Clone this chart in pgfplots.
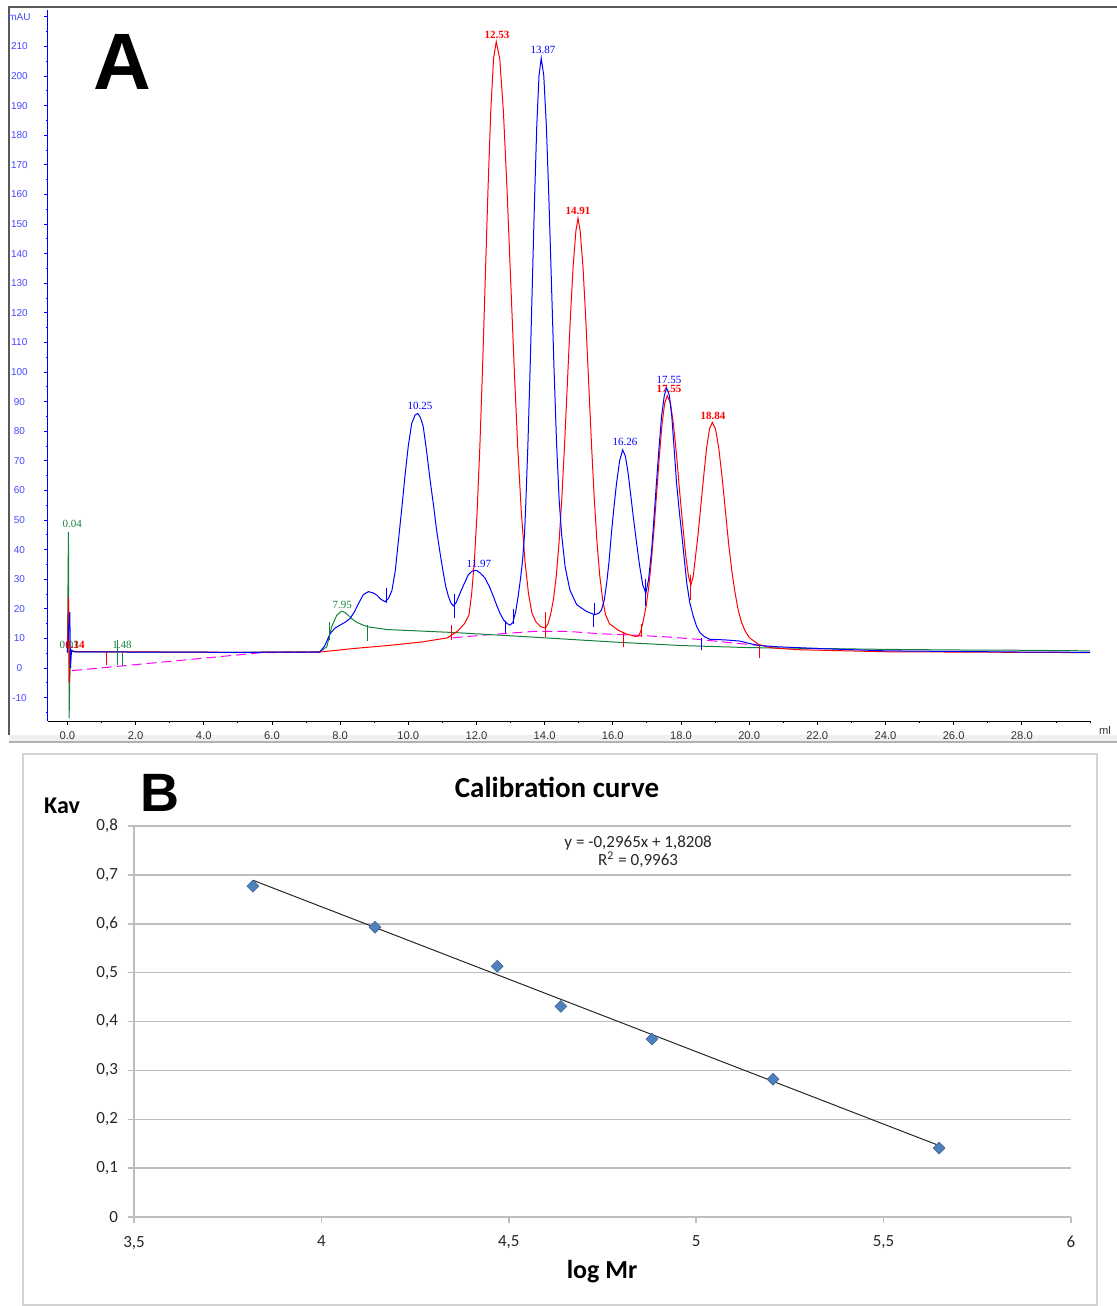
\documentclass[border=0pt]{standalone}
\usepackage{fontspec}
\setmainfont{Liberation Sans}
\newfontfamily\timesf{Liberation Serif}
\newfontfamily\calib{Carlito}
\usepackage{pgfplots}
\pgfplotsset{compat=1.18}

\definecolor{chblue}{RGB}{0,0,255}
\definecolor{chred}{RGB}{255,0,0}
\definecolor{chgreen}{RGB}{20,130,60}
\definecolor{chmag}{RGB}{255,0,255}
\definecolor{ticklab}{RGB}{70,70,255}
\definecolor{xlblue}{RGB}{79,129,189}
\definecolor{gridg}{RGB}{190,190,190}

\begin{document}
\begin{tikzpicture}[x=0.5pt,y=-0.5pt]
\useasboundingbox (0,0) rectangle (1117,1306);
% frames of the two panels
\draw[gray!70!black, line width=0.6pt] (9,735) -- (9,7) -- (1117,7);
\fill[gray!12] (9,735) rectangle (1117,741);
\draw[gray!60, line width=0.75pt] (9,742) -- (1117,742);
\draw[gray!35, line width=0.75pt] (23,1305) rectangle (1097,754);

% ---------------- panel A: chromatogram
\begin{axis}[
  at={(24pt,-360.5pt)}, anchor=south west,
  scale only axis, width=521pt, height=355.5pt,
  xmin=-0.57, xmax=30, ymin=-17.9, ymax=222.3,
  axis x line*=bottom, axis y line*=left,
  x axis line style={black, line width=0.5pt, -},
  y axis line style={chblue, line width=0.5pt, -},
  xtick={0,2,...,28}, minor xtick={1,3,...,29,30},
  ytick={-10,0,...,220}, minor ytick={-15,-5,...,215},
  yticklabels={-10,0,10,20,30,40,50,60,70,80,90,100,110,120,130,140,150,160,170,180,190,200,210,mAU},
  xticklabel={\pgfmathprintnumber[fixed,fixed zerofill,precision=1]{\tick}},
  tick align=outside, major tick length=2pt, minor tick length=1.2pt,
  xtick style={black, line width=0.4pt},
  ytick style={chblue, line width=0.4pt},
  /pgf/number format/assume math mode=true,
  xticklabel style={font=\fontsize{5.6}{6}\selectfont, text=black!80},
  yticklabel style={font=\fontsize{5}{6}\selectfont, text=ticklab, anchor=center, xshift=-12.3pt},
  xlabel={ml},
  xlabel style={at={(axis description cs:1,0)}, anchor=west, xshift=1pt, yshift=-4.5pt,
    font=\fontsize{5.6}{6}\selectfont, text=black!80},
  unbounded coords=jump,
]
% baseline (dashed)
\addplot[chmag, line width=0.5pt, dash pattern=on 5pt off 2.5pt] coordinates {
(0.13,-0.9) (5.7,5.2) (7.4,5.4) (7.4,nan)
(11.3,10.2) (12.3,11.2) (13.7,12.4) (14.65,12.4) (15.6,11.6) (16.6,11.1) (17.6,10.5) (18.5,9.7) (19.5,8.5) (20.3,7.6)};
% green trace
\addplot[chgreen, line width=0.5pt] coordinates {
(0.00,5.3) (0.03,46) (0.05,-17) (0.08,5.8) (0.15,5.5) (2,5.4) (5,5.3) (7.41,5.5) (7.61,7.2) (7.75,13.9)
(7.90,17.8) (8.04,19.2) (8.14,18.8) (8.24,17.8) (8.36,16.5) (8.48,15.5) (8.65,14.6) (8.83,13.9) (9.37,13)
(10.35,12.5) (11.32,12) (12.69,11.1) (14,10.2) (16,8.8) (18,7.6) (20,6.9) (22,6.6) (24,6.3) (26,6.1) (28,6.0) (30,5.8)};
% red trace
\addplot[chred, line width=0.5pt] coordinates {
(0.00,5.3) (0.03,24) (0.06,-5) (0.09,6) (0.15,5.6) (1.0,5.5) (3.0,5.4) (5.0,5.3) (7.4,5.4) (8.0,6.1) (8.4,6.6)
(9.4,7.6) (10.4,8.8) (11.15,10.2) (11.45,12.5) (11.65,15) (11.78,17.9) (11.86,25.2) (11.94,36.5) (12.02,52.9)
(12.10,74.9) (12.18,101.9) (12.26,132.1) (12.34,162.2) (12.42,188.1) (12.50,205.7) (12.58,211.6) (12.685,205.7)
(12.79,188.1) (12.895,162.2) (13.00,132.1) (13.105,101.9) (13.21,74.9) (13.315,52.9) (13.42,36.5) (13.525,25.2)
(13.63,18.5) (13.75,15.5) (13.88,14) (14.02,13.5) (14.1,15) (14.175,18.1) (14.2575,23.1) (14.34,30.9) (14.4225,42.3)
(14.505,57.5) (14.5875,76.1) (14.67,96.9) (14.7525,117.7) (14.835,135.6) (14.9175,147.7) (14.98,152) (15.0425,147.7)
(15.125,135.6) (15.2075,117.7) (15.29,96.9) (15.3725,76.1) (15.455,57.5) (15.5375,42.3) (15.62,30.9) (15.7025,23.1)
(15.785,18.1) (15.9,15) (16.15,12.8) (16.4,11.5) (16.65,10.7) (16.76,10.8) (16.825,12.6) (16.9025,16.5) (16.98,21.1)
(17.0575,27.7) (17.135,36.6) (17.2125,47.5) (17.29,59.7) (17.3675,71.9) (17.445,82.4) (17.5225,89.5) (17.60,92)
(17.69,89.5) (17.78,82.4) (17.87,71.9) (17.96,59.7) (18.05,48.5) (18.14,38) (18.22,31) (18.29,28) (18.36,31)
(18.41,36) (18.495,44.5) (18.58,54.5) (18.665,64.6) (18.75,74.2) (18.835,80.7) (18.92,83) (19.015,80.7) (19.11,74.2)
(19.205,64.6) (19.30,53.5) (19.395,42.3) (19.49,33) (19.585,25.5) (19.68,19.5) (19.775,15.5) (19.87,12.8) (20.0,10.3)
(20.27,8) (20.66,6.8) (21.4,6.2) (22.5,5.9) (24,5.5) (26,5.4) (28,5.3) (30,5.2)};
% blue trace
\addplot[chblue, line width=0.5pt] coordinates {
(0.00,5.2) (0.04,14) (0.07,19) (0.09,0) (0.12,6) (0.2,5.5) (2,5.4) (5,5.3) (7.4,5.4) (7.55,7.5) (7.71,11.7)
(7.85,13.5) (8.0,14.5) (8.15,15.5) (8.29,16.7) (8.42,19) (8.54,21.8) (8.68,24.8) (8.83,25.8) (8.96,25.4) (9.08,24.6)
(9.2,23.2) (9.32,22.4) (9.42,23.5) (9.52,26.2) (9.62,33) (9.71,43) (9.81,54) (9.91,65.7) (10.0,75) (10.10,82.6)
(10.2,85.5) (10.28,86) (10.36,84.5) (10.44,81.5) (10.54,73) (10.64,63.5) (10.74,55) (10.83,46.6) (10.93,39)
(11.03,32) (11.1,27.5) (11.18,24.1) (11.25,22) (11.32,21) (11.4,22) (11.52,25.3) (11.64,28.5) (11.76,31.5)
(11.88,32.8) (12.0,33) (12.12,32) (12.25,30.4) (12.38,27.5) (12.50,24.1) (12.6,21) (12.69,18.5) (12.8,16.2)
(12.9,15) (12.99,14.5) (13.07,15.5) (13.15,19) (13.22,24) (13.29,30) (13.35,36) (13.41,45) (13.445,54.7)
(13.51,75.7) (13.575,101.4) (13.64,130.1) (13.705,158.7) (13.77,183.3) (13.835,200.1) (13.90,206) (13.975,200.1)
(14.05,183.3) (14.125,158.7) (14.20,130.1) (14.275,101.4) (14.35,76) (14.425,57) (14.5,45) (14.6,34.3) (14.74,26.4)
(14.94,21.4) (15.23,19.1) (15.47,18) (15.6,18.6) (15.67,19.7) (15.75,23) (15.82,28.7) (15.89,36) (15.96,45.6)
(16.04,55) (16.11,62.5) (16.2,70) (16.29,73.7) (16.37,71.5) (16.45,65.8) (16.52,59) (16.60,51.2) (16.7,42)
(16.79,34.3) (16.88,28) (16.97,25.3) (17.05,30) (17.14,39.9) (17.21,51) (17.28,62.5) (17.36,75) (17.43,85)
(17.51,92) (17.58,94.6) (17.66,92) (17.73,85) (17.8,74) (17.87,62.5) (17.95,53) (18.02,45.6) (18.1,36.5)
(18.17,28.7) (18.26,22) (18.36,17.5) (18.46,14) (18.56,11.9) (18.7,10.5) (18.85,9.7) (19.3,9.5) (19.73,9.1)
(20.0,8.3) (20.3,7.6) (20.8,7.2) (22,6.6) (24,5.8) (26,5.6) (28,5.4) (30,5.3)};
% peak delimiter marks
\addplot[chgreen, line width=0.5pt] coordinates {
(1.46,1) (1.46,9.5) (1.46,nan) (1.62,0.8) (1.62,5.2) (1.62,nan)
(7.7,9.5) (7.7,15.5) (7.7,nan) (8.8,9) (8.8,14.5)};
\addplot[chred, line width=0.5pt] coordinates {
(1.16,1) (1.16,5.5) (1.16,nan) (11.28,9.5) (11.28,14.5) (11.28,nan) (14.02,10.5) (14.02,19) (14.02,nan)
(16.3,7) (16.3,12) (16.3,nan) (16.85,10.5) (16.85,15) (16.85,nan) (18.27,23) (18.27,31.5) (18.27,nan)
(20.3,3.4) (20.3,7.8)};
\addplot[chblue, line width=0.5pt] coordinates {
(9.35,22) (9.35,27) (9.35,nan) (11.35,17) (11.35,25) (11.35,nan) (12.85,12) (12.85,16) (12.85,nan)
(13.1,15) (13.1,20) (13.1,nan) (15.42,14) (15.42,18) (15.42,nan) (15.45,18) (15.45,22) (15.45,nan)
(16.95,21) (16.95,30) (16.95,nan) (18.6,6) (18.6,10)};
% peak labels
\addplot[draw=none, nodes near coords, point meta=explicit symbolic,
  every node near coord/.append style={anchor=center, inner sep=0pt, font=\timesf\fontsize{5.5}{6}\selectfont, text=chgreen}]
  coordinates {(0.14,48.6)[0.04] (0.05,7.8)[0.03] (1.6,7.8)[1.48] (8.06,21.3)[7.95]};
\addplot[draw=none, nodes near coords, point meta=explicit symbolic,
  every node near coord/.append style={anchor=center, inner sep=0pt, font=\timesf\bfseries\fontsize{5.5}{6}\selectfont, text=chred}]
  coordinates {(0.22,7.8)[0.14] (12.60,213.8)[12.53] (14.98,154.5)[14.91] (17.65,94.3)[17.55] (18.94,85.3)[18.84]};
\addplot[draw=none, nodes near coords, point meta=explicit symbolic,
  every node near coord/.append style={anchor=center, inner sep=0pt, font=\timesf\fontsize{5.5}{6}\selectfont, text=chblue}]
  coordinates {(10.34,88.5)[10.25] (12.07,35.1)[11.97] (13.95,208.8)[13.87] (16.36,76.4)[16.26] (17.65,97.2)[17.55]};
\node[font=\bfseries\fontsize{40}{40}\selectfont] at (axis description cs:0.071,0.927) {A};
\end{axis}

% ---------------- panel B: calibration curve
\begin{axis}[
  at={(67pt,-608.5pt)}, anchor=south west,
  scale only axis, width=468.5pt, height=195.5pt,
  xmin=3.5, xmax=6, ymin=0, ymax=0.8,
  xtick={3.5,4,4.5,5,5.5,6}, ytick={0,0.1,...,0.8},
  axis x line*=bottom, axis y line*=left,
  axis line style={gridg, line width=0.75pt, -},
  ymajorgrids, grid style={gridg, line width=0.75pt},
  tick align=outside, major tick length=3pt,
  tick style={gridg, line width=0.75pt},
  /pgf/number format/.cd, use comma, fixed, precision=1, assume math mode=true, /pgfplots/.cd,
  ticklabel style={font=\calib\fontsize{8.5}{10}\selectfont, text=black!85},
  yticklabel style={xshift=-1.5pt},
  xticklabel style={yshift=-3pt},
  clip=false,
]
\addplot[only marks, mark=square*, mark size=2.1pt, mark options={rotate=45, fill=xlblue, draw=xlblue!80!black, line width=0.3pt}]
  coordinates {(3.817,0.677) (4.143,0.593) (4.469,0.513) (4.639,0.431) (4.882,0.364) (5.205,0.282) (5.648,0.141)};
\addplot[black!85, line width=0.5pt] coordinates {(3.817,0.6891) (5.648,0.1462)};
\node[font=\calib\bfseries\fontsize{14.5}{16}\selectfont] at (axis description cs:0.4514,1.0997) {Calibration curve};
\node[font=\bfseries\fontsize{27}{27}\selectfont] at (axis description cs:0.0277,1.084) {B};
\node[font=\calib\bfseries\fontsize{12}{13}\selectfont] at (axis description cs:-0.0768,1.051) {Kav};
\node[font=\calib\fontsize{8.5}{10}\selectfont, align=center, text=black!85] at (axis description cs:0.538,0.935)
  {y = -0,2965x + 1,8208\\[-1pt] R\textsuperscript{2} = 0,9963};
\node[font=\calib\bfseries\fontsize{13}{14}\selectfont] at (axis description cs:0.4995,-0.1407) {log Mr};
\end{axis}
\end{tikzpicture}
\end{document}
